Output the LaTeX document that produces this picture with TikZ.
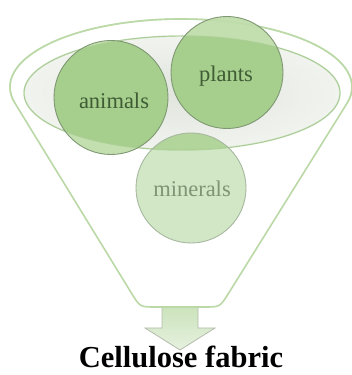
\documentclass[tikz,border=0pt]{standalone}
\usepackage{fontspec}
\setmainfont{Liberation Serif}
\definecolor{funnelline}{HTML}{BBD9A7}
\definecolor{rimline}{HTML}{A9CF92}
\definecolor{rimfill}{HTML}{E0E5DD}
\definecolor{rimlight}{HTML}{F1F3EF}
\definecolor{gout}{HTML}{C3DFB0}
\definecolor{gin}{HTML}{A6CE8D}
\definecolor{mout}{HTML}{D2E7C6}
\definecolor{minin}{HTML}{B2D59B}
\definecolor{cedge}{HTML}{7F9873}
\definecolor{medge}{HTML}{A7B8A0}
\definecolor{tdark}{HTML}{3F5C35}
\definecolor{tlight}{HTML}{7D9574}
\definecolor{arrowtop}{HTML}{C9E2B9}
\definecolor{arrowbot}{HTML}{E6F1DF}
\definecolor{arrowedge}{HTML}{B3BCAE}
\begin{document}
\begin{tikzpicture}[x=1pt,y=1pt,
  circlebox/.style={circle, draw=cedge, line width=0.9pt, inner sep=0pt},
  lbl/.style={font=\fontsize{22.5}{24}\selectfont, text=tdark, anchor=base, inner sep=0pt},
  rim/.style={x radius=158pt, y radius=57pt},
  topArc/.style={start angle=193.7, end angle=-13.7, x radius=171pt, y radius=68pt}]
\fill[white] (0,0) rectangle (352,375);
\useasboundingbox (0,0) rectangle (352,375);
% output arrow
\draw[draw=arrowedge, line width=0.8pt, top color=arrowtop, bottom color=arrowbot]
  (162,72) -- (162,47) -- (145,47) -- (180,25) -- (215,47) -- (198,47) -- (198,72) -- cycle;
% funnel body
\coordinate (fl) at (14.9,271.9);
\filldraw[fill=white, draw=funnelline, line width=1.6pt]
  (fl) arc[topArc] -- (228.5,81.6) .. controls (220,68) .. (204,68)
  -- (156,68) .. controls (140,68) .. (131.6,81.6) -- cycle;
% funnel mouth
\fill[inner color=rimfill, outer color=rimlight] (182,282) ellipse[rim];
% circle fills
\fill[gout] (111,277.5) circle[radius=57pt];
\fill[gout] (227,302.5) circle[radius=56pt];
\fill[mout] (191,187) circle[radius=55pt];
\begin{scope}
  \clip (182,282) ellipse[rim];
  \fill[gin] (111,277.5) circle[radius=57pt];
  \fill[gin] (227,302.5) circle[radius=56pt];
  \fill[minin] (191,187) circle[radius=55pt];
\end{scope}
\draw[rimline, line width=1.4pt, opacity=0.8] (182,282) ellipse[rim];
\draw[funnelline, line width=1.6pt, opacity=0.6] (fl) arc[topArc];
% circles
\node[circlebox, minimum size=114pt] (animals) at (111,277.5) {};
\node[circlebox, minimum size=112pt] (plants) at (227,302.5) {};
\node[circlebox, draw=medge, minimum size=110pt] (minerals) at (191,187) {};
% labels
\node[lbl] (tanimals) at (114,266) {animals};
\node[lbl] (tplants) at (226,293) {plants};
\node[lbl, text=tlight] (tminerals) at (192,178) {minerals};
\node[font=\fontsize{30.5}{33}\selectfont\bfseries, anchor=base, inner sep=0pt] (result) at (181,7) {Cellulose fabric};
\end{tikzpicture}
\end{document}
